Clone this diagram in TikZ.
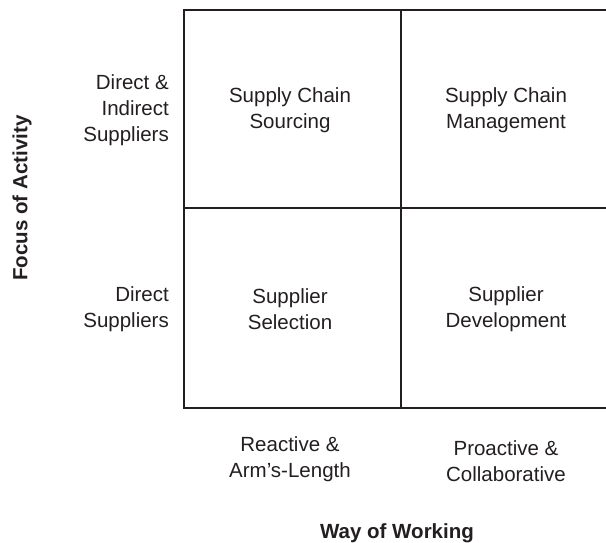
\documentclass[tikz,border=0pt]{standalone}
\usepackage{fontspec}
\setmainfont{Liberation Sans}
\usetikzlibrary{positioning}
\definecolor{inkgray}{HTML}{231F20}

\begin{document}
\begin{tikzpicture}[x=1pt,y=-1pt,
    grid line/.style={draw=inkgray,line width=2pt},
    cell/.style={align=center,text=inkgray,inner sep=0pt,font=\fontsize{20.5}{26}\selectfont},
    side/.style={cell,align=right,anchor=east},
    axis/.style={text=inkgray,inner sep=0pt,font=\bfseries\fontsize{20.5}{26}\selectfont}]

        \useasboundingbox (0,0) rectangle (606,543);
        \clip (0,0) rectangle (606,543);

        % corners and midpoints of the grid
        \coordinate (nw) at (184,10);
        \coordinate (n)  at (401,10);
        \coordinate (ne) at (614,10);
        \coordinate (w)  at (184,208);
        \coordinate (e)  at (614,208);
        \coordinate (sw) at (184,408);
        \coordinate (s)  at (401,408);
        \coordinate (se) at (614,408);

        \draw[grid line] (nw) -- (ne) -- (se) -- (sw) -- cycle;
        \draw[grid line] (n) -- (s);
        \draw[grid line] (w) -- (e);

        % cells
        \node[cell] (sourcing)    at (290,110) {Supply Chain\\Sourcing};
        \node[cell] (management)  at (506,110) {Supply Chain\\Management};
        \node[cell] (selection)   at (290,309) {Supplier\\Selection};
        \node[cell] (development) at (506,309) {Supplier\\Development};

        % row labels
        \node[side] (indirect) at (169,110) {Direct \&\\Indirect\\Suppliers};
        \node[side] (direct)   at (169,309) {Direct\\Suppliers};

        % column labels
        \node[cell] (reactive)  at (290,459) {Reactive \&\\Arm’s-Length};
        \node[cell] (proactive) at (506,461) {Proactive \&\\Collaborative};

        % axis titles
        \node[axis,rotate=90] (focus) at (22,198) {Focus of Activity};
        \node[axis,anchor=base] (way) at (397,538) {Way of Working};
\end{tikzpicture}
\end{document}
